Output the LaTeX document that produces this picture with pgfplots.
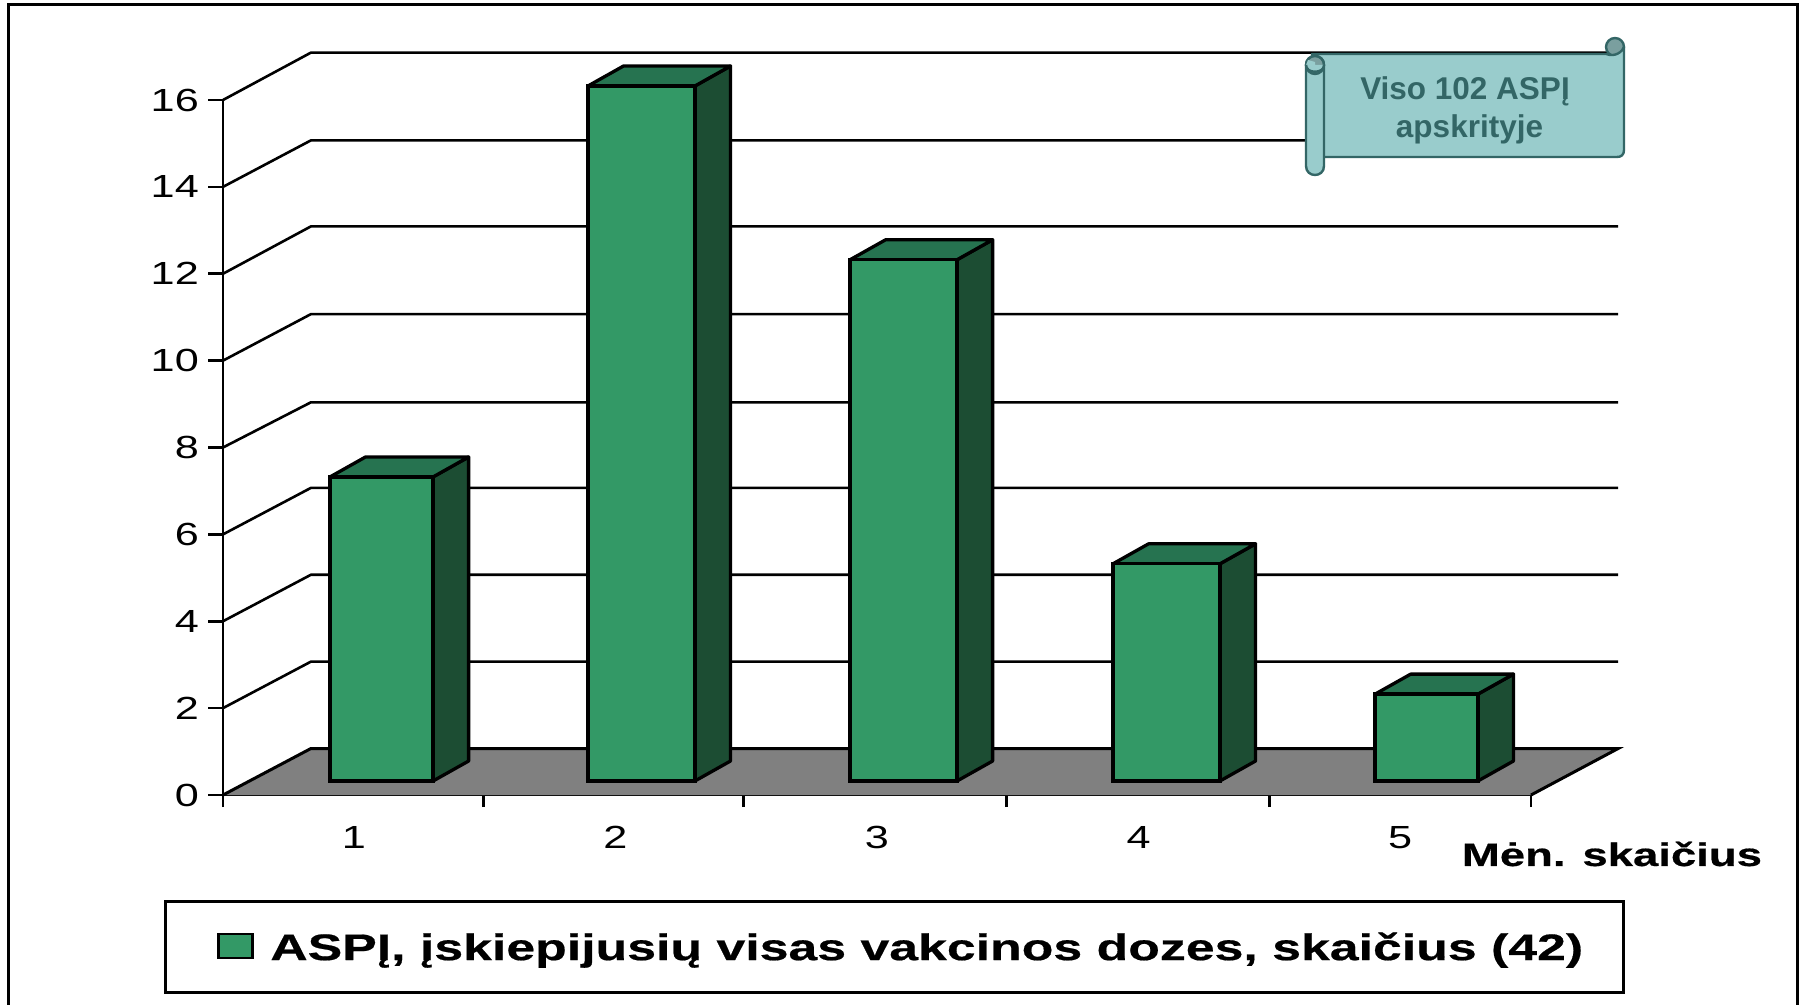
\documentclass[border=0pt]{standalone}
\usepackage{fontspec}
\usepackage{pgfplots}
\pgfplotsset{compat=1.18}
\setmainfont{Liberation Sans}
\newfontfamily\widefont[FakeStretch=1.35]{Liberation Sans}
\newfontfamily\widebold[FakeStretch=1.4,BoldFont={Liberation Sans Bold},BoldFeatures={FakeBold=0.5}]{Liberation Sans}
\definecolor{barfront}{HTML}{339966}
\definecolor{bartop}{HTML}{267350}
\definecolor{barside}{HTML}{1C4D33}
\definecolor{floorgray}{HTML}{808080}
\definecolor{scrollfill}{HTML}{99CCCC}
\definecolor{scrollline}{HTML}{336666}
\definecolor{scrollcurl}{HTML}{7A9F9F}
\pgfplotsset{
  barbase/.style={forget plot,draw=black,line width=3.3pt,yshift=14pt,line join=miter},
  front/.style={barbase,ybar,bar shift=0pt,fill=barfront},
  top/.style={barbase,fill=bartop,line join=round},
  side/.style={barbase,fill=barside,line join=round},
  wall/.style={forget plot,draw=black,line width=2.6pt,no marks},
}
\begin{document}
\begin{tikzpicture}[x=1pt,y=1pt]
\path[use as bounding box,fill=white] (0,0) rectangle (1801,1004);
\draw[line width=3pt,black] (8,-5) -- (8,999) -- (1797,999) -- (1797,-5);
\begin{axis}[
  at={(223pt,209pt)}, anchor=south west,
  scale only axis, width=1308pt, height=695pt,
  xmin=0.5, xmax=5.5, ymin=0, ymax=16,
  clip=false,
  axis lines=left, axis line style={-,line width=2.6pt,black},
  xtick={0.5,1.495,2.49,3.495,4.5,5.5},
  xticklabels={},
  extra x ticks={1,2,3,4,5},
  extra x tick labels={1,2,3,4,5},
  extra x tick style={tick style={draw=none}},
  xtick style={line width=2.6pt,black,yshift=3pt},
  tick align=outside,
  ytick={0,2,4,6,8,10,12,14,16},
  ytick style={line width=2.6pt,black},
  major tick length=15pt,
  /pgf/number format/assume math mode=true,
  yticklabel style={font=\widefont\fontsize{32}{34}\selectfont,inner sep=0pt,xshift=-9pt},
  xticklabel style={font=\widefont\fontsize{32}{34}\selectfont,inner sep=0pt,yshift=-16pt},
  xlabel={\widebold\bfseries Mėn. skaičius},
  xlabel style={font=\fontsize{32.5}{35}\selectfont,at={(rel axis cs:1,0)},anchor=center,xshift=81pt,yshift=-59pt,inner sep=0pt},
  legend style={at={(-0.0451,-0.2862)},anchor=south west,draw=black,line width=2.6pt,
    inner xsep=36pt,inner ysep=27pt,
    font=\widebold\bfseries\fontsize{37}{40}\selectfont,
    nodes={inner sep=4pt}},
  legend cell align=left,
]
% back wall
\addplot[wall] coordinates {(0.5,2)(0.836,3.07)(5.833,3.07)};
\addplot[wall] coordinates {(0.5,4)(0.836,5.07)(5.833,5.07)};
\addplot[wall] coordinates {(0.5,6)(0.836,7.07)(5.833,7.07)};
\addplot[wall] coordinates {(0.5,8)(0.836,9.04)(5.833,9.04)};
\addplot[wall] coordinates {(0.5,10)(0.836,11.07)(5.833,11.07)};
\addplot[wall] coordinates {(0.5,12)(0.836,13.09)(5.833,13.09)};
\addplot[wall] coordinates {(0.5,14)(0.836,15.07)(5.833,15.07)};
\addplot[wall] coordinates {(0.5,16)(0.836,17.09)(5.833,17.09)};
% floor
\addplot[forget plot,fill=floorgray,draw=none] coordinates {(0.5,0)(5.5,0)(5.833,1.07)(0.836,1.07)} --cycle;
\addplot[wall,line width=3pt] coordinates {(0.5,0)(0.836,1.07)(5.833,1.07)(5.5,0)};
% bars: side and top faces, then front
\addplot[side] coordinates {(1.303,0)(1.439,0.46)(1.439,7.46)(1.303,7)} --cycle;
\addplot[top]  coordinates {(0.909,7)(1.045,7.46)(1.439,7.46)(1.303,7)} --cycle;
\addplot[front,bar width=0.394] coordinates {(1.106,7)};
\addplot[side] coordinates {(2.304,0)(2.440,0.46)(2.440,16.46)(2.304,16)} --cycle;
\addplot[top]  coordinates {(1.895,16)(2.031,16.46)(2.440,16.46)(2.304,16)} --cycle;
\addplot[front,bar width=0.409] coordinates {(2.0995,16)};
\addplot[side] coordinates {(3.306,0)(3.442,0.46)(3.442,12.46)(3.306,12)} --cycle;
\addplot[top]  coordinates {(2.897,12)(3.033,12.46)(3.442,12.46)(3.306,12)} --cycle;
\addplot[front,bar width=0.409] coordinates {(3.1015,12)};
\addplot[side] coordinates {(4.311,0)(4.447,0.46)(4.447,5.46)(4.311,5)} --cycle;
\addplot[top]  coordinates {(3.902,5)(4.038,5.46)(4.447,5.46)(4.311,5)} --cycle;
\addplot[front,bar width=0.409] coordinates {(4.1065,5)};
\addplot[side] coordinates {(5.297,0)(5.433,0.46)(5.433,2.46)(5.297,2)} --cycle;
\addplot[top]  coordinates {(4.904,2)(5.040,2.46)(5.433,2.46)(5.297,2)} --cycle;
\addplot[front,bar width=0.393] coordinates {(5.1005,2)};
\addlegendimage{legend image code/.code={\path[draw=none,fill=none] (0pt,0pt) rectangle (65pt,1pt); \path[fill=barfront,draw=black,line width=2.6pt] (17pt,-11pt) rectangle (51pt,13pt);}}
\addlegendentry{ASPĮ, įskiepijusių visas vakcinos dozes, skaičius (42)}
\end{axis}
% scroll callout (y measured downward from the top of the picture)
\begin{scope}[shift={(0,1004)},yscale=-1,line width=2.4pt,draw=scrollline,line join=round]
\draw[fill=scrollcurl] (1615,47) circle (9);
\draw[fill=scrollfill] (1312,54) -- (1606,54) .. controls (1610,56) and (1620,56) .. (1624,47) -- (1624,150) .. controls (1624,155) and (1621,157) .. (1617,157) -- (1320,157) -- cycle;
\draw[fill=scrollfill] (1306,65) -- (1306,166) .. controls (1306,178) and (1324,178) .. (1324,166) -- (1324,65) .. controls (1324,53) and (1306,53) .. cycle;
\draw[fill=scrollcurl] (1315,65) circle (9);
\fill[scrollfill] (1306,65) .. controls (1306,74) and (1324,74) .. (1324,65) -- (1315,65) -- (1315,62) -- (1308,60) -- cycle;
\draw (1306,65) .. controls (1306,74) and (1324,74) .. (1324,65);
\end{scope}
\node[font=\bfseries\fontsize{31.5}{38}\selectfont,text=scrollline,align=center] at (1467,894) {Viso 102 ASPĮ\hspace*{4pt}\\\hspace*{5pt}apskrityje};
\end{tikzpicture}
\end{document}
